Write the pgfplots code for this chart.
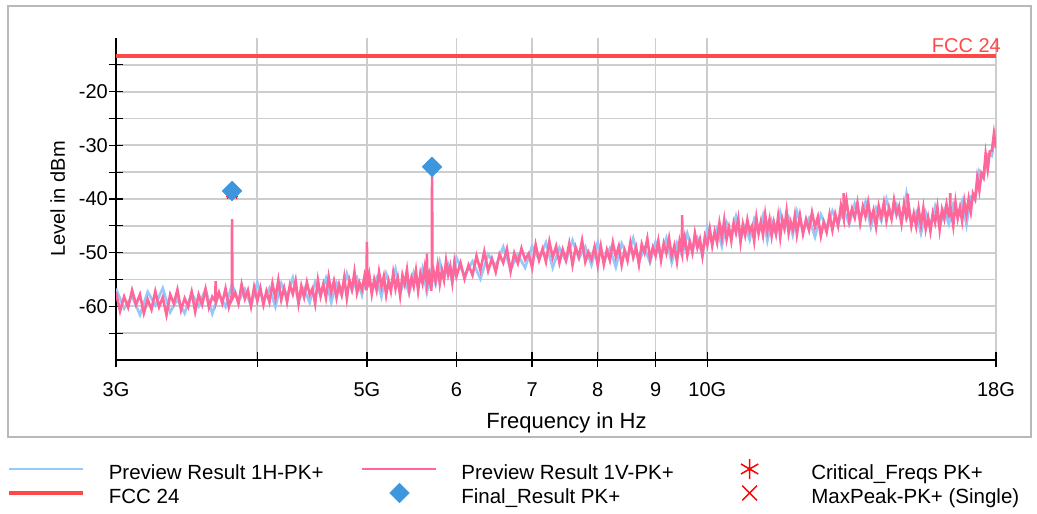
\documentclass[border=0pt]{standalone}
\usepackage{fontspec}
\setmainfont{Liberation Sans}
\usepackage{pgfplots}
\pgfplotsset{compat=1.18}
\definecolor{hblue}{RGB}{150,200,250}
\definecolor{vpink}{RGB}{255,102,153}
\definecolor{fccred}{RGB}{255,72,72}
\definecolor{dblue}{RGB}{62,150,220}
\definecolor{gridgray}{RGB}{205,205,205}
\definecolor{framegray}{RGB}{185,185,185}
\pgfplotsset{
  legline/.style={legend image code/.code={\path (0pt,0pt) (74pt,0pt); \draw[##1,overlay] (0pt,10pt) -- (74pt,10pt);}},
  legmark/.style={legend image code/.code={\path (0pt,0pt) (74pt,0pt); \draw[##1,overlay] plot coordinates {(37pt,10pt)};}},
}
\begin{document}
\begin{tikzpicture}[x=1pt,y=1pt]
\useasboundingbox (0,0) rectangle (1037,514);
\draw[framegray, line width=2pt] (8,508) rectangle (1031,77);
\begin{axis}[
  at={(116pt,154pt)}, anchor=south west,
  scale only axis, width=880pt, height=322pt,
  xmode=log, xmin=3, xmax=18, ymin=-70, ymax=-10,
  clip mode=individual,
  axis x line*=bottom, axis y line*=left,
  axis line style={black, line width=1.5pt, -},
  xtick={3,4,5,6,7,8,9,10,18},
  xticklabels={3G,,5G,6,7,8,9,10G,18G},
  minor xtick={},
  ytick={-60,-50,-40,-30,-20},
  yticklabels={-60,-50,-40,-30,-20},
  minor ytick={-65,-55,-45,-35,-25,-15},
  tick align=center,
  major tick length=15pt, minor tick length=15pt,
  tick style={black, line width=1.3pt},
  grid=both,
  major grid style={gridgray, line width=1.8pt},
  minor grid style={gridgray, line width=1.8pt},
  tick label style={font=\fontsize{20}{24}\selectfont, black},
  xticklabel style={anchor=base, inner sep=0pt, yshift=-29pt},
  yticklabel style={anchor=east, inner sep=0pt, xshift=-0.5pt},
  xlabel={Frequency in Hz}, ylabel={Level in dBm},
  xlabel style={at={(axis description cs:0.512,-0.2112)}, anchor=base, inner sep=0pt, font=\fontsize{22}{26}\selectfont},
  ylabel style={at={(axis description cs:-0.058,0.5)}, anchor=base, inner sep=0pt, font=\fontsize{20}{24}\selectfont},
  legend columns=3,
  legend style={at={(axis description cs:-0.12386,-0.3230)}, anchor=north west, draw=none, fill=none,
    inner sep=0pt, outer sep=0pt, font=\fontsize{20.5}{24}\selectfont, row sep=4pt,
    cells={anchor=base west},
    nodes={inner sep=0pt, text height=15pt, text depth=5pt},
    /tikz/every odd column/.append style={column sep=24pt},
    /tikz/every even column/.append style={column sep=38pt}},
]
% legend
\addlegendimage{legline, hblue, line width=1.8pt}
\addlegendentry{Preview Result 1H-PK+}
\addlegendimage{legline, vpink, line width=1.8pt}
\addlegendentry{Preview Result 1V-PK+}
\addlegendimage{legmark, only marks, red, mark=asterisk, mark size=10pt, line width=1.5pt}
\addlegendentry{Critical\_Freqs PK+}
\addlegendimage{legline, fccred, line width=3.8pt}
\addlegendentry{FCC 24}
\addlegendimage{legmark, only marks, mark=square*, mark size=7pt, mark options={rotate=45, fill=dblue, draw=dblue}}
\addlegendentry{Final\_Result PK+}
\addlegendimage{legmark, only marks, red, mark=x, mark size=10.5pt, line width=1.4pt}
\addlegendentry{MaxPeak-PK+ (Single)}
% Preview 1H
\addplot[hblue, line width=2.6pt, forget plot] coordinates {
(3.00,-56.7)(3.05,-60.4)(3.10,-58.1)(3.15,-61.6)(3.20,-57.3)(3.25,-59.8)(3.30,-56.6)(3.35,-61.1)(3.40,-58.7)(3.45,-61.3)
(3.50,-57.5)(3.55,-60.0)(3.60,-56.8)(3.65,-61.4)(3.70,-57.7)(3.75,-60.1)(3.80,-55.9)(3.85,-59.1)(3.90,-56.8)(3.95,-59.9)
(4.00,-55.5)(4.05,-59.1)(4.10,-56.6)(4.15,-60.1)(4.20,-55.7)(4.25,-58.1)(4.30,-54.7)(4.35,-59.1)(4.40,-56.7)(4.45,-59.3)
(4.50,-55.5)(4.55,-58.0)(4.60,-54.8)(4.65,-59.3)(4.70,-55.6)(4.75,-58.0)(4.80,-53.9)(4.85,-57.1)(4.90,-54.7)(4.95,-57.9)
(5.00,-53.5)(5.05,-57.2)(5.10,-54.8)(5.15,-58.2)(5.20,-53.9)(5.25,-56.4)(5.30,-53.1)(5.35,-57.5)(5.40,-55.1)(5.45,-57.6)
(5.50,-53.7)(5.55,-56.2)(5.60,-52.9)(5.65,-57.4)(5.70,-53.6)(5.75,-55.9)(5.80,-51.7)(5.85,-54.7)(5.90,-52.3)(5.95,-55.4)
(6.00,-50.9)(6.1,-54.3)(6.2,-51.6)(6.3,-54.9)(6.4,-50.3)(6.5,-52.5)(6.6,-48.9)(6.7,-53.1)(6.8,-50.4)(6.9,-52.8)
(7.0,-48.8)(7.1,-51.3)(7.2,-48.1)(7.3,-52.8)(7.4,-49.1)(7.5,-51.6)(7.6,-47.7)(7.7,-51.1)(7.8,-48.9)(7.9,-52.3)
(8.0,-48.1)(8.1,-51.7)(8.2,-49.2)(8.3,-52.7)(8.4,-48.3)(8.5,-50.7)(8.6,-47.3)(8.7,-51.7)(8.8,-49.2)(8.9,-51.8)
(9.0,-48.0)(9.1,-50.5)(9.2,-47.3)(9.3,-51.9)(9.4,-48.2)(9.5,-50.6)(9.6,-46.4)(9.7,-49.6)(9.8,-47.3)(9.9,-50.5)
(10.0,-45.3)(10.1,-48.1)(10.2,-45.5)(10.3,-48.8)(10.4,-44.4)(10.5,-46.7)(10.6,-43.3)(10.7,-47.6)(10.8,-45.1)(10.9,-47.6)
(11.0,-43.8)(11.1,-46.3)(11.2,-43.1)(11.3,-47.8)(11.4,-44.1)(11.5,-46.6)(11.6,-42.5)(11.7,-45.7)(11.8,-43.5)(11.9,-46.7)
(12.0,-42.3)(12.15,-46.0)(12.30,-43.6)(12.45,-47.1)(12.60,-42.9)(12.75,-45.4)(12.90,-42.2)(13.05,-44.5)(13.20,-42.0)(13.35,-44.7)
(13.50,-40.9)(13.65,-43.6)(13.80,-40.5)(13.95,-45.3)(14.10,-41.7)(14.25,-44.1)(14.40,-40.0)(14.55,-43.3)(14.70,-41.1)(14.85,-44.4)
(15.00,-39.0)(15.15,-44.4)(15.30,-42.5)(15.45,-46.4)(15.60,-42.5)(15.75,-44.9)(15.90,-41.4)(16.05,-45.2)(16.20,-42.1)(16.35,-44.7)
(16.50,-41.0)(16.65,-43.5)(16.80,-40.5)(16.95,-44.8)(17.10,-39.6)(17.25,-40.2)(17.40,-34.8)(17.55,-36.2)(17.70,-31.7)(17.85,-32.0)
(18.00,-27.0)
};
% Preview 1V
\addplot[vpink, line width=2.6pt, forget plot] coordinates {
(3.000,-57.4)(3.025,-60.9)(3.050,-58.2)(3.075,-60.2)(3.100,-57.0)(3.125,-59.7)(3.150,-57.8)(3.175,-61.3)(3.200,-58.7)(3.225,-60.6)
(3.250,-57.2)(3.275,-60.1)(3.300,-58.3)(3.325,-61.6)(3.350,-57.8)(3.375,-59.5)(3.400,-56.9)(3.425,-60.7)(3.450,-58.5)(3.475,-60.1)
(3.500,-57.3)(3.525,-61.0)(3.550,-57.8)(3.575,-59.7)(3.600,-56.8)(3.625,-60.2)(3.650,-58.2)(3.672,-59.0)(3.675,-55.3)(3.678,-59.2)
(3.700,-57.4)(3.725,-59.4)(3.750,-56.7)(3.775,-60.1)(3.798,-58.0)(3.800,-43.8)(3.802,-58.6)(3.825,-57.5)(3.850,-59.5)(3.875,-55.9)
(3.900,-58.6)(3.925,-57.0)(3.950,-60.0)(3.975,-56.4)(4.000,-59.0)(4.025,-56.6)(4.050,-59.7)(4.075,-57.2)(4.100,-59.2)(4.125,-55.7)
(4.150,-58.5)(4.175,-55.1)(4.200,-58.8)(4.225,-56.6)(4.250,-59.2)(4.275,-56.0)(4.300,-57.7)(4.325,-55.2)(4.350,-59.5)(4.375,-56.2)
(4.400,-58.3)(4.425,-55.5)(4.450,-57.8)(4.475,-56.7)(4.500,-59.5)(4.525,-55.1)(4.550,-58.1)(4.575,-55.9)(4.600,-58.4)(4.625,-54.5)
(4.650,-57.4)(4.675,-55.3)(4.700,-58.4)(4.725,-55.9)(4.750,-57.8)(4.775,-54.6)(4.800,-58.5)(4.825,-55.1)(4.850,-56.8)(4.875,-53.6)
(4.900,-57.5)(4.925,-55.6)(4.950,-56.9)(4.975,-54.4)(4.996,-57.0)(5.000,-48.0)(5.004,-56.5)(5.025,-54.2)(5.050,-57.7)(5.075,-55.0)
(5.100,-57.0)(5.125,-53.6)(5.150,-56.3)(5.175,-54.4)(5.200,-57.9)(5.225,-55.3)(5.250,-57.2)(5.275,-53.8)(5.300,-56.7)(5.325,-54.7)
(5.350,-58.0)(5.375,-54.2)(5.400,-55.9)(5.425,-53.2)(5.450,-57.0)(5.475,-54.7)(5.500,-56.3)(5.525,-53.4)(5.550,-57.1)(5.575,-53.9)
(5.600,-55.7)(5.625,-52.8)(5.647,-55.5)(5.650,-50.2)(5.653,-55.8)(5.675,-54.1)(5.700,-57.1)(5.707,-55.0)(5.710,-34.0)(5.713,-54.0)
(5.725,-53.2)(5.750,-55.2)(5.775,-52.4)(5.800,-55.8)(5.825,-53.3)(5.850,-55.1)(5.875,-51.5)(5.900,-54.1)(5.925,-52.5)(5.950,-55.5)
(5.975,-51.8)(6.000,-54.4)
(6.05,-51.9)(6.10,-54.9)(6.15,-52.3)(6.20,-54.2)(6.25,-50.6)(6.30,-53.3)(6.35,-49.8)(6.40,-53.4)(6.45,-51.1)(6.50,-53.6)
(6.55,-50.3)(6.60,-51.9)(6.65,-49.3)(6.70,-53.5)(6.75,-50.1)(6.80,-52.0)(6.85,-49.2)(6.90,-51.3)(6.95,-50.2)(7.00,-52.8)
(7.05,-48.5)(7.10,-51.4)(7.15,-49.3)(7.20,-51.7)(7.25,-47.9)(7.30,-50.9)(7.35,-48.8)(7.40,-51.9)(7.45,-49.4)(7.50,-51.4)
(7.55,-48.3)(7.60,-52.3)(7.65,-49.0)(7.70,-50.8)(7.75,-47.7)(7.80,-51.7)(7.85,-49.9)(7.90,-51.3)(7.95,-48.9)(8.00,-52.4)
(8.05,-48.8)(8.10,-52.2)(8.15,-49.5)(8.20,-51.4)(8.25,-48.1)(8.30,-50.8)(8.35,-48.8)(8.40,-52.3)(8.45,-49.6)(8.50,-51.5)
(8.55,-48.1)(8.60,-50.9)(8.65,-49.0)(8.70,-52.2)(8.75,-48.4)(8.80,-50.0)(8.85,-47.4)(8.90,-51.2)(8.95,-49.0)(9.00,-50.6)
(9.05,-47.8)(9.10,-51.4)(9.15,-48.3)(9.20,-50.1)(9.25,-47.3)(9.30,-50.6)(9.35,-48.7)(9.40,-51.7)(9.45,-47.9)(9.495,-50.0)
(9.50,-43.0)(9.505,-49.5)(9.55,-47.1)(9.60,-50.5)(9.65,-48.0)(9.70,-50.0)(9.75,-46.4)(9.80,-49.1)(9.85,-47.5)(9.90,-50.6)
(9.95,-47.0)(10.00,-48.6)(10.05,-45.6)(10.10,-48.7)(10.15,-46.1)(10.20,-48.1)(10.25,-44.5)(10.30,-47.2)(10.35,-43.9)(10.40,-47.5)
(10.45,-45.3)(10.50,-47.8)(10.55,-44.5)(10.60,-46.3)(10.65,-43.7)(10.70,-48.0)(10.75,-44.7)(10.80,-46.7)(10.85,-43.9)(10.90,-46.1)
(10.95,-45.1)(11.00,-47.8)(11.05,-43.5)(11.10,-46.4)(11.15,-44.3)(11.20,-46.7)(11.25,-42.9)(11.30,-45.9)(11.35,-43.8)(11.40,-46.9)
(11.45,-44.4)(11.50,-46.4)(11.55,-43.3)(11.60,-47.1)(11.65,-43.8)(11.70,-45.4)(11.75,-42.3)(11.80,-46.3)(11.85,-44.3)(11.90,-45.7)
(11.95,-43.1)(12.00,-46.6)
(12.075,-43.0)(12.150,-46.5)(12.225,-43.8)(12.300,-45.8)(12.375,-42.5)(12.450,-45.2)(12.525,-43.3)(12.600,-46.9)(12.675,-44.3)(12.750,-46.2)
(12.825,-42.9)(12.900,-45.8)(12.975,-42.8)(13.050,-45.0)(13.125,-41.2)(13.195,-43.5)(13.200,-38.9)(13.205,-43.0)(13.275,-40.2)(13.350,-44.1)
(13.425,-41.8)(13.500,-43.5)(13.575,-40.7)(13.650,-44.5)(13.725,-41.4)(13.800,-43.3)(13.875,-40.6)(13.950,-44.0)(14.025,-42.1)(14.100,-45.2)
(14.175,-41.3)(14.250,-43.4)(14.325,-40.7)(14.400,-44.1)(14.475,-41.7)(14.550,-43.7)(14.625,-40.2)(14.700,-42.9)(14.775,-41.4)(14.850,-44.5)
(14.925,-40.9)(15.000,-43.6)(15.035,-43.0)(15.040,-39.0)(15.045,-42.5)(15.075,-41.5)(15.150,-45.0)(15.225,-42.7)(15.300,-45.1)(15.375,-41.8)
(15.450,-44.8)(15.525,-41.7)(15.600,-45.6)(15.675,-43.4)(15.750,-46.0)(15.825,-42.7)(15.900,-44.4)(15.975,-41.5)(16.050,-45.6)(16.125,-42.0)
(16.200,-43.7)(16.275,-41.0)(16.350,-43.2)(16.395,-43.0)(16.400,-38.9)(16.405,-42.8)(16.425,-42.2)(16.500,-45.0)(16.575,-40.6)(16.650,-43.6)
(16.725,-41.6)(16.800,-44.1)(16.875,-40.4)(16.950,-42.9)(17.025,-40.0)(17.100,-42.4)(17.175,-39.0)(17.250,-40.0)(17.325,-36.0)(17.400,-38.4)
(17.475,-35.2)(17.550,-35.9)(17.625,-31.6)(17.700,-34.5)(17.775,-31.1)(17.850,-31.0)(17.925,-27.8)(18.000,-30.5)
};
% spikes drawn thin on top
\addplot[vpink, line width=1.5pt, forget plot] coordinates {(3.800,-58.0)(3.800,-43.8)};
\addplot[vpink, line width=1.5pt, forget plot] coordinates {(5.710,-54.0)(5.710,-34.0)};
% FCC 24 limit
\addplot[fccred, line width=3.8pt, forget plot] coordinates {(3,-13.3) (18,-13.3)};
% Critical freqs
\addplot[only marks, red, mark=asterisk, mark size=6.5pt, line width=1.2pt, forget plot] coordinates {(3.80,-39.0) (5.71,-34.0)};
% MaxPeak
\addplot[only marks, red, mark=x, mark size=7pt, line width=1.2pt, forget plot] coordinates {(3.80,-39.0) (5.71,-34.0)};
% Final result
\addplot[only marks, mark=square*, mark size=7pt, mark options={rotate=45, fill=dblue, draw=dblue}, forget plot] coordinates {(3.80,-38.5) (5.71,-34.0)};
\node[fccred, anchor=base east, inner sep=0pt, font=\fontsize{20}{24}\selectfont, xshift=5pt, yshift=3pt] at (axis cs:18,-13.3) {FCC 24};
\end{axis}
\end{tikzpicture}
\end{document}
